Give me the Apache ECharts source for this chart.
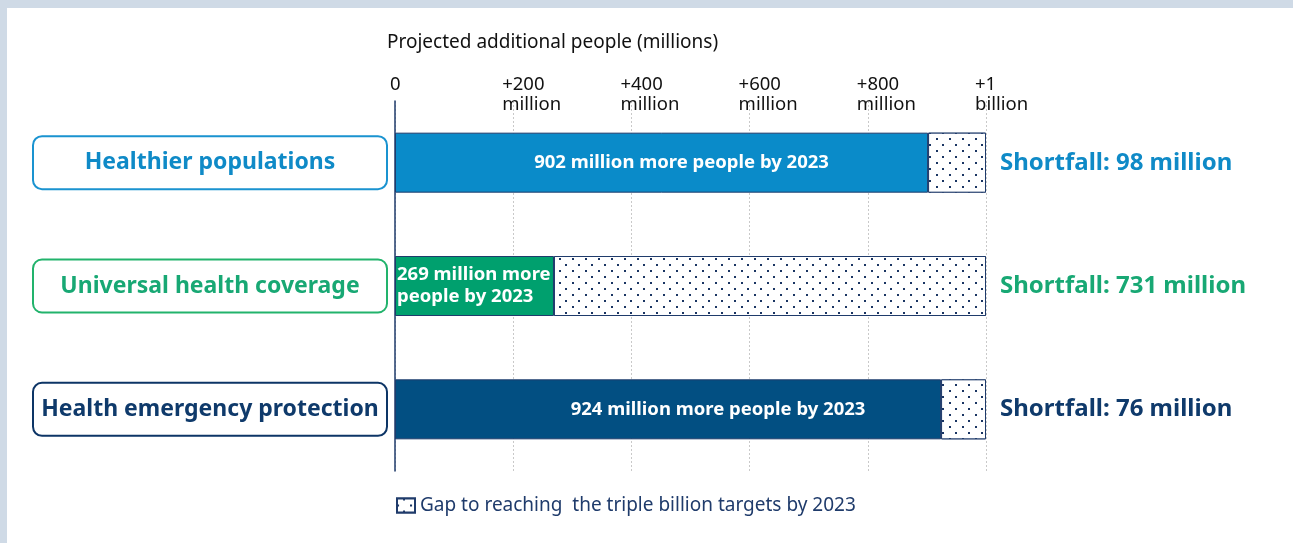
<!DOCTYPE html>
<html>
<head>
<meta charset="utf-8">
<title>Triple billion targets</title>
<script src="https://cdn.jsdelivr.net/npm/echarts@6/dist/echarts.min.js"></script>
<style>
  html, body { margin: 0; padding: 0; background: #cfdae6; }
  .panel { position: absolute; left: 7px; top: 8px; right: 0; bottom: 0; background: #fff; }
  #chart { position: absolute; left: 0; top: 0; width: 1293px; height: 543px; }
</style>
</head>
<body>
<div class="panel"></div>
<div id="chart"></div>
<script>
const categories = ['Healthier populations', 'Universal health coverage', 'Health emergency protection']
const achieved = [902, 269, 924]
const shortfall = [98, 731, 76]
const achievedLabels = [
  '902 million more people by 2023',
  '269 million more\npeople by 2023',
  '924 million more people by 2023'
]
const tickLabels = ['0', '+200\nmillion', '+400\nmillion', '+600\nmillion', '+800\nmillion', '+1\nbillion']

const barColors = ['#0a8bc9', '#00a06e', '#024f82']
const textColors = ['#0f8ac7', '#18a874', '#0f3a6b']
const boxColors = ['#1a93d0', '#22b36c', '#0d3566']
const navy = '#1f3b6b'
const gapName = 'Gap to reaching  the triple billion targets by 2023'

const chart = echarts.init(document.getElementById('chart'))

// rounded boxes around the category names
const boxRich = {}
textColors.forEach((c, i) => {
  boxRich['s' + i] = {
    color: c,
    fontSize: 23,
    fontWeight: 'bold',
    width: 354,
    height: 53,
    lineHeight: 53,
    align: 'center',
    borderColor: boxColors[i],
    borderWidth: 2,
    borderRadius: 9
  }
})

const option = {
  textStyle: { fontFamily: 'Noto Sans' },
  animation: false,
  title: {
    text: 'Projected additional people (millions)',
    left: 382,
    top: 28,
    textStyle: { fontSize: 19, fontWeight: 'normal', color: '#111' }
  },
  legend: {
    data: [gapName],
    left: 391,
    top: 491,
    icon: 'rect',
    itemWidth: 18,
    itemHeight: 14,
    itemGap: 6,
    textStyle: { fontSize: 19, color: navy }
  },
  grid: {
    left: 395,
    right: 1293 - 986,
    top: 101,
    bottom: 543 - 471,
    containLabel: false
  },
  xAxis: {
    type: 'value',
    position: 'top',
    min: 0,
    max: 1000,
    interval: 200,
    axisLine: { show: false },
    axisTick: { show: false },
    splitLine: { lineStyle: { color: '#c9c9c9', type: [2, 2], width: 1 } },
    axisLabel: {
      align: 'left',
      margin: -14,
      lineHeight: 20,
      fontSize: 18.5,
      color: '#111',
      padding: [0, 0, 0, -11],
      formatter: (v) => {
        const i = Math.round(v / 200)
        return i === 0 ? '{z|0}\n ' : tickLabels[i]
      },
      rich: { z: { fontSize: 18.5, color: '#111', padding: [0, 0, 0, 6] } }
    }
  },
  yAxis: {
    type: 'category',
    inverse: true,
    data: categories,
    axisLine: { show: true, lineStyle: { color: navy, width: 1.5 } },
    axisTick: { show: false },
    axisLabel: {
      margin: 8,
      formatter: (v, i) => `{s${i}|${v}}`,
      rich: boxRich
    }
  },
  series: [
    {
      name: 'Achieved',
      type: 'bar',
      stack: 'total',
      barWidth: 60,
      data: achieved.map((v, i) => ({
        value: v,
        itemStyle: { color: barColors[i] },
        label: i === 1
          ? { position: 'insideLeft', distance: 2, align: 'left' }
          : { position: 'inside', offset: [i === 0 ? 20 : 50, 0] }
      })),
      itemStyle: { borderColor: navy, borderWidth: 1 },
      label: {
        show: true,
        color: '#fff',
        fontSize: 18.5,
        fontWeight: 'bold',
        lineHeight: 22,
        formatter: (p) => achievedLabels[p.dataIndex]
      }
    },
    {
      name: gapName,
      type: 'bar',
      stack: 'total',
      barWidth: 60,
      data: shortfall.map((v, i) => ({
        value: v,
        label: { color: textColors[i] }
      })),
      itemStyle: {
        color: '#fff',
        borderColor: navy,
        borderWidth: 1,
        decal: {
          symbol: 'rect',
          symbolSize: 1,
          color: '#1a3563',
          backgroundColor: '#fff',
          dashArrayX: [[1.2, 10.8], [0, 6, 1.2, 4.8]],
          dashArrayY: [1.2, 3.8],
          rotation: 0
        }
      },
      label: {
        show: true,
        position: 'right',
        distance: 14,
        fontSize: 24,
        fontWeight: 'bold',
        formatter: (p) => `Shortfall: ${p.value} million`
      }
    }
  ]
}

chart.setOption(option)
window.addEventListener('resize', () => chart.resize())
</script>
</body>
</html>
